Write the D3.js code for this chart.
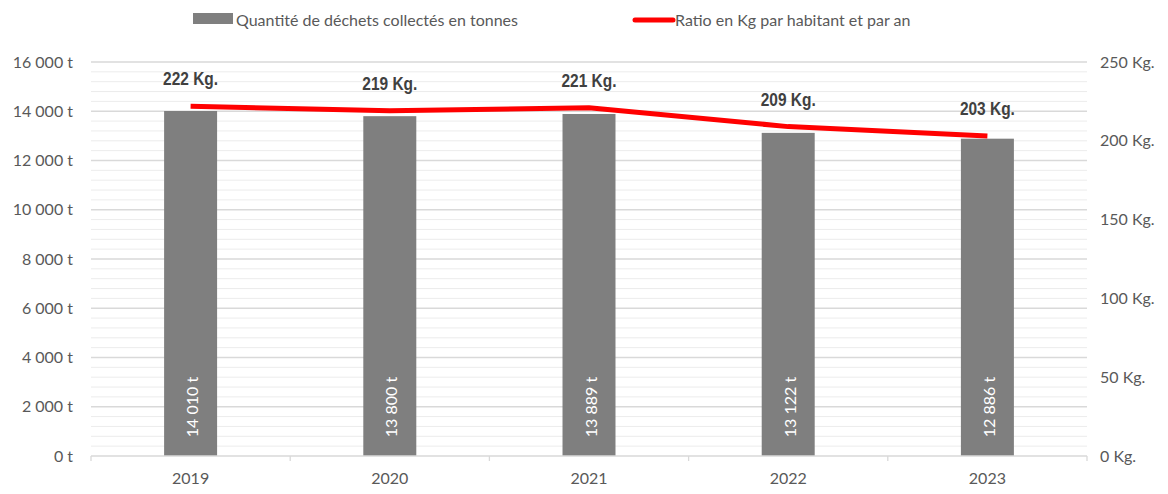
<!DOCTYPE html>
<html>
<head>
<meta charset="utf-8">
<script src="https://cdn.jsdelivr.net/npm/d3@7"></script>
<style>
  html, body { margin: 0; padding: 0; background: #ffffff; }
  svg { display: block; }
</style>
</head>
<body>
<svg id="chart" width="1168" height="494"></svg>
<script>
// Waste collected per year (tonnes) and ratio per inhabitant (kg)
const years = ["2019", "2020", "2021", "2022", "2023"];
const tonnes = [14010, 13800, 13889, 13122, 12886];
const ratioKg = [222, 219, 221, 209, 203];
const leftTicks = [0, 2000, 4000, 6000, 8000, 10000, 12000, 14000, 16000];
const rightTicks = [0, 50, 100, 150, 200, 250];
const legendLabels = ["Quantité de déchets collectés en tonnes", "Ratio en Kg par habitant et par an"];

const svg = d3.select("#chart");
const plot = { left: 91, right: 1087, top: 62, bottom: 456 };

const x = d3.scaleBand()
  .domain(years)
  .range([plot.left, plot.right])
  .paddingInner(0.734)
  .paddingOuter(0.367);
const yL = d3.scaleLinear().domain([0, 16000]).range([plot.bottom, plot.top]);
const yR = d3.scaleLinear().domain([0, 250]).range([plot.bottom, plot.top]);

const fmtSpace = v => d3.format(",")(v).replace(/,/g, " ");
const textFont = "Lato, 'Open Sans', sans-serif";
const textGrey = "#595959";

// minor gridlines every 400 t
const minor = d3.range(400, 16000, 400).filter(v => v % 2000 !== 0);
svg.append("g").selectAll("line").data(minor).join("line")
  .attr("x1", plot.left).attr("x2", plot.right)
  .attr("y1", d => yL(d)).attr("y2", d => yL(d))
  .attr("stroke", "#ececec").attr("stroke-width", 1);

// major gridlines
svg.append("g").selectAll("line").data(leftTicks.filter(v => v > 0)).join("line")
  .attr("x1", plot.left).attr("x2", plot.right)
  .attr("y1", d => yL(d)).attr("y2", d => yL(d))
  .attr("stroke", "#d9d9d9").attr("stroke-width", 1.3);

// left axis labels
const leftAxis = d3.axisLeft(yL).tickValues(leftTicks)
  .tickFormat(d => fmtSpace(d) + " t").tickSize(0).tickPadding(18);
const gL = svg.append("g").attr("transform", `translate(${plot.left},0)`).call(leftAxis);
gL.select(".domain").remove();
gL.selectAll("text").attr("font-family", textFont).attr("font-size", 16).attr("fill", textGrey);

// right axis labels
const rightAxis = d3.axisRight(yR).tickValues(rightTicks)
  .tickFormat(d => d + " Kg.").tickSize(0).tickPadding(13);
const gR = svg.append("g").attr("transform", `translate(${plot.right},0)`).call(rightAxis);
gR.select(".domain").remove();
gR.selectAll("text").attr("font-family", textFont).attr("font-size", 16).attr("fill", textGrey);

// bars
svg.append("g").selectAll("rect").data(years).join("rect")
  .attr("x", d => x(d))
  .attr("width", x.bandwidth())
  .attr("y", (d, i) => yL(tonnes[i]))
  .attr("height", (d, i) => yL(0) - yL(tonnes[i]))
  .attr("fill", "#7f7f7f");

// category axis with boundary ticks
const step = x.step();
const bounds = d3.range(years.length + 1).map(i => plot.left + i * step);
svg.append("line")
  .attr("x1", plot.left).attr("x2", plot.right)
  .attr("y1", plot.bottom).attr("y2", plot.bottom)
  .attr("stroke", "#d9d9d9").attr("stroke-width", 1.3);
svg.append("g").selectAll("line").data(bounds).join("line")
  .attr("x1", d => d).attr("x2", d => d)
  .attr("y1", plot.bottom).attr("y2", plot.bottom + 5)
  .attr("stroke", "#d9d9d9").attr("stroke-width", 1.3);
const bottomAxis = d3.axisBottom(x).tickSize(0).tickPadding(17);
const gB = svg.append("g").attr("transform", `translate(0,${plot.bottom})`).call(bottomAxis);
gB.select(".domain").remove();
gB.selectAll("text").attr("font-family", textFont).attr("font-size", 16).attr("fill", textGrey);

// values inside the bars, rotated
svg.append("g").selectAll("text").data(years).join("text")
  .attr("transform", d => `translate(${x(d) + x.bandwidth() / 2 + 1},407) rotate(-90)`)
  .attr("text-anchor", "middle")
  .attr("dominant-baseline", "central")
  .attr("font-family", textFont).attr("font-size", 16)
  .attr("fill", "#ffffff")
  .text((d, i) => fmtSpace(tonnes[i]) + " t");

// ratio line
const line = d3.line()
  .x((d, i) => x(years[i]) + x.bandwidth() / 2)
  .y(d => yR(d));
svg.append("path").datum(ratioKg)
  .attr("d", line)
  .attr("fill", "none")
  .attr("stroke", "#ff0000")
  .attr("stroke-width", 5)
  .attr("stroke-linejoin", "round");

// ratio labels, condensed bold
svg.append("g").selectAll("text").data(ratioKg).join("text")
  .attr("transform", (d, i) => `translate(${x(years[i]) + x.bandwidth() / 2},${yR(d) - 21}) scale(0.86,1)`)
  .attr("text-anchor", "middle")
  .attr("font-family", "'Liberation Sans Narrow', 'Arial Narrow', 'Liberation Sans', sans-serif")
  .attr("font-weight", "bold")
  .attr("font-size", 18)
  .attr("fill", "#404040")
  .text(d => d + " Kg.");

// legend
const lg = svg.append("g");
lg.append("rect").attr("x", 193).attr("y", 13).attr("width", 40).attr("height", 11).attr("fill", "#7f7f7f");
lg.append("text").attr("x", 236).attr("y", 19)
  .attr("dominant-baseline", "central")
  .attr("font-family", textFont).attr("font-size", 16).attr("fill", textGrey)
  .text(legendLabels[0]);
lg.append("line").attr("x1", 635).attr("x2", 673).attr("y1", 20).attr("y2", 20)
  .attr("stroke", "#ff0000").attr("stroke-width", 5).attr("stroke-linecap", "round");
lg.append("text").attr("x", 675).attr("y", 19)
  .attr("dominant-baseline", "central")
  .attr("font-family", textFont).attr("font-size", 16).attr("fill", textGrey)
  .text(legendLabels[1]);
</script>
</body>
</html>
